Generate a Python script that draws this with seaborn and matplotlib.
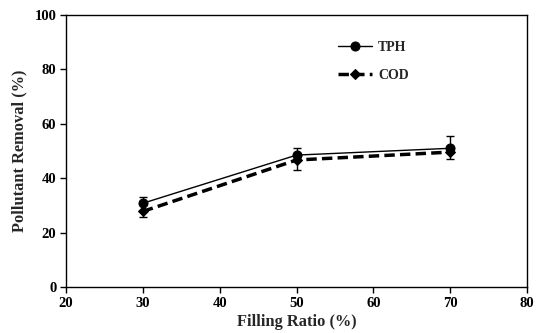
import pandas as pd
import matplotlib
matplotlib.use("Agg")
import matplotlib.pyplot as plt
import seaborn as sns

# Values
filling_ratio = [30, 50, 70]
tph_removal = [30.8, 48.5, 51.0]
tph_err = [2.2, 2.5, 4.5]
cod_removal = [27.8, 46.7, 49.6]
cod_err = [2.0, 3.8, 2.7]

sns.set_style("ticks")
plt.rcParams["font.family"] = ["Liberation Serif", "DejaVu Serif"]
plt.rcParams["font.weight"] = "bold"

df = pd.concat([
    pd.DataFrame({"ratio": filling_ratio, "removal": tph_removal, "series": "TPH"}),
    pd.DataFrame({"ratio": filling_ratio, "removal": cod_removal, "series": "COD"}),
])

fig = plt.figure(figsize=(5.38, 3.33), dpi=100)
ax = fig.add_axes([0.1227, 0.138, 0.857, 0.817])

# error bars (one-sided, as in the original)
ax.errorbar(filling_ratio, tph_removal, yerr=[[0] * 3, tph_err], fmt="none",
            ecolor="black", elinewidth=1, capsize=3, capthick=1, zorder=2)
ax.errorbar(filling_ratio, cod_removal, yerr=[cod_err, [0] * 3], fmt="none",
            ecolor="black", elinewidth=1, capsize=3, capthick=1, zorder=2)

sns.lineplot(data=df[df["series"] == "TPH"], x="ratio", y="removal", ax=ax,
             color="black", lw=1, marker="o", markersize=6.5, markeredgecolor="black",
             label="TPH", zorder=3)
sns.lineplot(data=df[df["series"] == "COD"], x="ratio", y="removal", ax=ax,
             color="black", lw=2.5, ls=(0, (3, 1.5)), marker="D", markersize=5,
             markeredgecolor="black", label="COD", zorder=3)

ax.set_xlim(20, 80)
ax.set_ylim(0, 100)
ax.set_xticks(range(20, 81, 10))
ax.set_yticks(range(0, 101, 20))
ax.tick_params(direction="out", length=4, width=1, labelsize=10.5, colors="black", pad=3)
for lbl in ax.get_xticklabels() + ax.get_yticklabels():
    lbl.set_fontweight("bold")
for sp in ax.spines.values():
    sp.set_color("black")
    sp.set_linewidth(1)

ax.set_xlabel("Filling Ratio (%)", fontsize=11.8, fontweight="bold", labelpad=3)
ax.set_ylabel("Pollutant Removal (%)", fontsize=11.8, fontweight="bold", labelpad=5)

leg = ax.legend(loc="upper left", bbox_to_anchor=(0.59, 0.904), frameon=False,
                handlelength=2.45, fontsize=10, labelspacing=1.05, handletextpad=0.43,
                borderpad=0, borderaxespad=0)
for t in leg.get_texts():
    t.set_fontweight("bold")

fig.savefig("out.png", dpi=100)
